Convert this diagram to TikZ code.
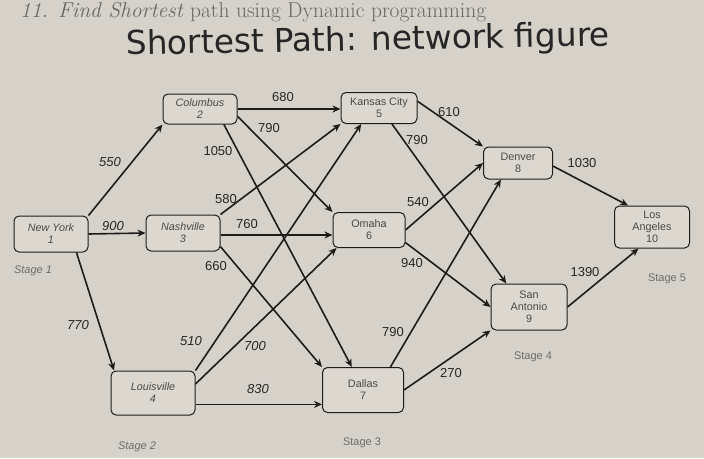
\documentclass[tikz,border=0pt]{standalone}
\usepackage{fontspec}
\newfontfamily\arial{Liberation Sans}
\newfontfamily\titlefont{DejaVu Sans}
\usetikzlibrary{arrows.meta}
\definecolor{bgcol}{RGB}{214,210,202}
\definecolor{nodefill}{RGB}{220,216,208}
\definecolor{linecol}{RGB}{30,28,27}
\definecolor{nodetext}{RGB}{75,73,72}
\definecolor{labtext}{RGB}{40,38,37}
\definecolor{stagetext}{RGB}{110,108,105}
\definecolor{hdrgray}{RGB}{105,103,100}
\tikzset{
  city/.style={draw=linecol, line width=1pt, rounded corners=5pt, fill=nodefill,
    inner sep=0pt, align=center, font=\arial\fontsize{10.8}{12}\selectfont, text=nodetext},
  link/.style={line width=1.6pt, draw=linecol, -{Stealth[length=8pt,width=7pt,inset=2.5pt]}},
  lbl/.style={font=\arial\fontsize{13}{13}\selectfont, text=labtext, inner sep=1pt},
  stg/.style={font=\arial\fontsize{11}{11}\selectfont, text=stagetext, inner sep=1pt}
}
\begin{document}
\begin{tikzpicture}[x=1pt,y=-1pt]
\fill[bgcol] (0,0) rectangle (704,458);
\useasboundingbox (0,0) rectangle (704,458);

% header
\node[anchor=base west, text=hdrgray, inner sep=0pt] (hdr) at (20,17)
  {\resizebox{466pt}{!}{\fontsize{17}{20}\selectfont\textit{11. Find Shortest} path using Dynamic programming}};
\node[anchor=base west, rotate=1.1, text=black!85, inner sep=0pt] (ttl) at (126,55)
  {\resizebox{484pt}{!}{\titlefont Shortest Path: network figure}};

% cities
\node[city, minimum width=74pt, minimum height=36pt] (ny)  at (51,234)   {\itshape New York\\\itshape 1};
\node[city, minimum width=74pt, minimum height=30pt] (col) at (200,109)  {\itshape Columbus\\\itshape 2};
\node[city, minimum width=74pt, minimum height=36pt] (nas) at (183,233)  {\itshape Nashville\\\itshape 3};
\node[city, minimum width=84pt, minimum height=44pt] (lou) at (153,393)  {\itshape Louisville\\\itshape 4};
\node[city, minimum width=76pt, minimum height=31pt] (kc)  at (379,108)  {Kansas City\\5};
\node[city, minimum width=72pt, minimum height=35pt] (om)  at (369,230)  {Omaha\\6};
\node[city, minimum width=81pt, minimum height=45pt] (dal) at (363,390)  {Dallas\\7};
\node[city, minimum width=69pt, minimum height=32pt] (den) at (518,163)  {Denver\\8};
\node[city, minimum width=76pt, minimum height=46pt] (sa)  at (529,307)  {San\\Antonio\\9};
\node[city, minimum width=75pt, minimum height=42pt] (la)  at (652,227)  {Los\\Angeles\\10};

% links
\draw[link] (ny.north east) -- (col.south west);
\draw[link] (ny.east) -- (nas.west);
\draw[link] (ny.-36) -- (lou.150);
\draw[link] (col.east) -- (col.east -| kc.west);
\draw[link] (col.-11) -- (om.north west);
\draw[link] (col.-33) -- (dal.116);
\draw[link] (nas.north east) -- (kc.south west);
\draw[link] (nas.-3) -- (nas.-3 -| om.west);
\draw[link] (nas.-20) -- (dal.north west);
\draw[link] (lou.north east) -- (kc.-138);
\draw[link] (lou.12) -- (om.209);
\draw[link] (lou.-15) -- (lou.-15 -| dal.west);
\draw[link] (kc.10) -- (den.north west);
\draw[link] (kc.-51) -- (sa.134);
\draw[link] (om.east) -- (den.west);
\draw[link] (om.-19) -- (sa.west);
\draw[link] (dal.40) -- (den.224);
\draw[link] (dal.east) -- (sa.south west);
\draw[link] (den.-5) -- (la.138);
\draw[link] (sa.east) -- (la.238);

% weights
\node[lbl] (w550) at (110,162) {\itshape 550};
\node[lbl] (w900) at (113,226) {\itshape 900};
\node[lbl] (w770) at (78,325) {\itshape 770};
\node[lbl] (w680) at (283,97) {680};
\node[lbl] (w790a) at (269,128) {790};
\node[lbl] (w1050) at (218,151) {1050};
\node[lbl] (w580) at (226,199) {580};
\node[lbl] (w760) at (247,224) {760};
\node[lbl] (w660) at (216,266) {660};
\node[lbl] (w510) at (191,341) {\itshape 510};
\node[lbl] (w700) at (255,346) {\itshape 700};
\node[lbl] (w830) at (258,389) {\itshape 830};
\node[lbl] (w610) at (449,112) {610};
\node[lbl] (w790b) at (417,140) {790};
\node[lbl] (w540) at (418,202) {540};
\node[lbl] (w940) at (412,263) {940};
\node[lbl] (w790c) at (393,332) {790};
\node[lbl] (w270) at (451,373) {270};
\node[lbl] (w1030) at (582,163) {1030};
\node[lbl] (w1390) at (585,272) {1390};

% stages
\node[stg] (s1) at (33,271) {\itshape Stage 1};
\node[stg] (s2) at (137,447) {\itshape Stage 2};
\node[stg] (s3) at (362,443) {Stage 3};
\node[stg] (s4) at (533,357) {Stage 4};
\node[stg] (s5) at (667,279) {Stage 5};
\end{tikzpicture}
\end{document}
